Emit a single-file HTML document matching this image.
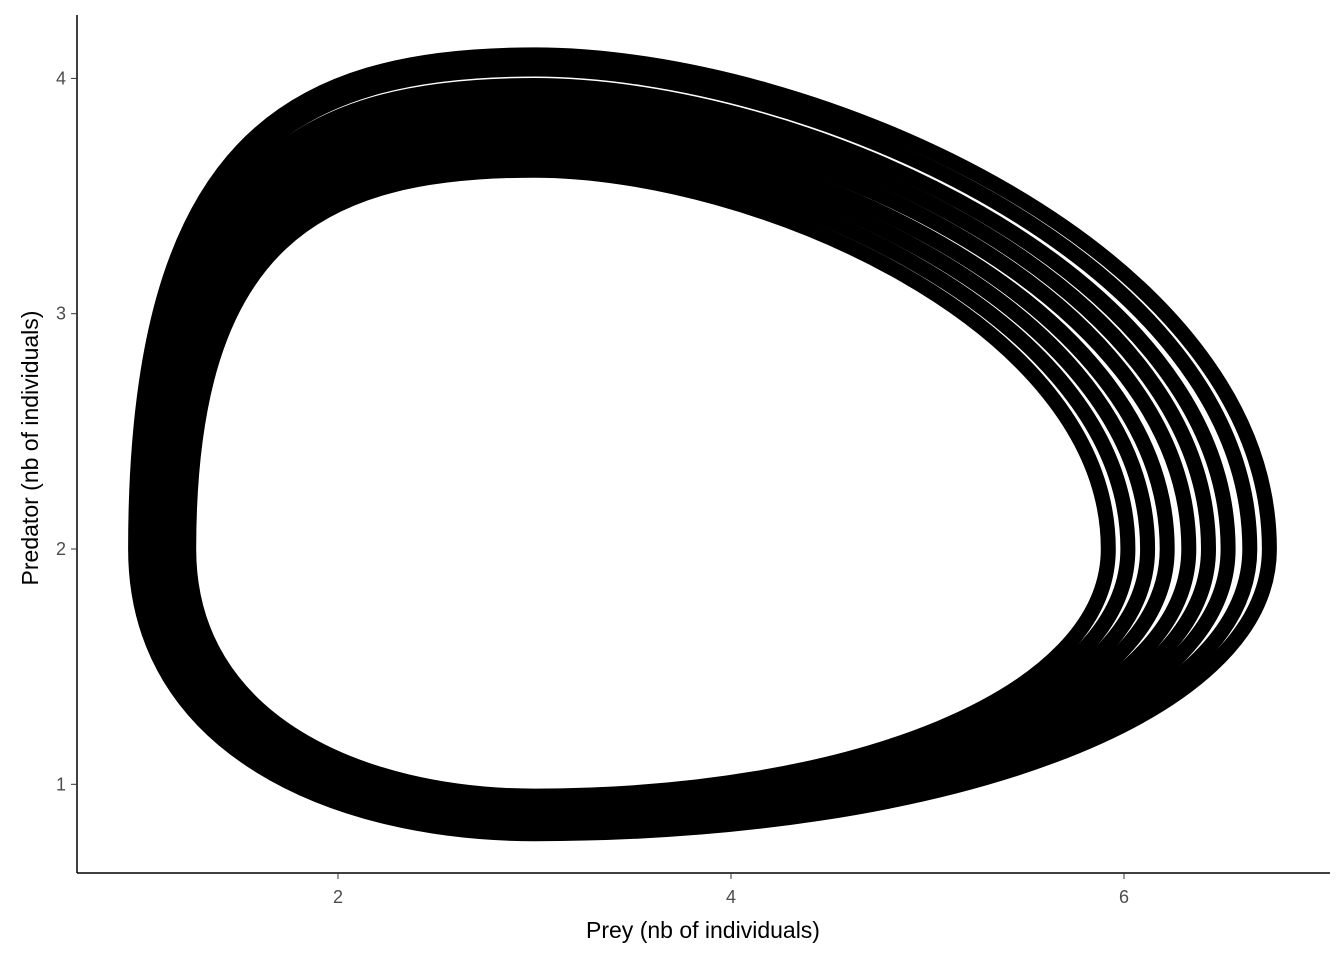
<!DOCTYPE html>
<html><head><meta charset="utf-8"><style>
body{margin:0;background:#fff;font-family:"Liberation Sans",sans-serif}
svg text{font-family:"Liberation Sans",sans-serif}
</style></head><body>
<svg id="c" width="1344" height="960" xmlns="http://www.w3.org/2000/svg">
<rect width="1344" height="960" fill="#fff"/>
<g id="orbits"></g>
<line x1="77" y1="15" x2="77" y2="873" stroke="#000" stroke-width="1.5"/>
<line x1="77" y1="873" x2="1330" y2="873" stroke="#000" stroke-width="1.5"/>
<g id="ticks"></g>
<text x="703" y="938" font-size="23" text-anchor="middle" fill="#000">Prey (nb of individuals)</text>
<text transform="translate(38,448) rotate(-90)" font-size="23" text-anchor="middle" fill="#000">Predator (nb of individuals)</text>
</svg>
<script>
const xTicks=[2,4,6];
const yTicks=[1,2,3,4];
const preyMin=[1.24,1.21,1.17,1.14,1.10,1.07,1.04,1.00,0.97];
const preyMax=[5.92,6.02,6.12,6.22,6.33,6.43,6.53,6.64,6.74];
const predMin=[0.95,0.93,0.91,0.89,0.87,0.85,0.83,0.81,0.79];
const predMax=[3.61,3.67,3.73,3.79,3.85,3.91,3.97,4.04,4.10];
const eqX=3, eqY=2;
const sx=v=>338+(v-2)*196.5;
const sy=v=>549-(v-2)*235.3;
const NS="http://www.w3.org/2000/svg";
const g=document.getElementById('orbits');
const P=(x,y)=>sx(x).toFixed(1)+' '+sy(y).toFixed(1);
for(let i=0;i<preyMin.length;i++){
  const a=preyMin[i],b=preyMax[i],lo=predMin[i],hi=predMax[i];
  const d='M'+P(a,eqY)+
   ' C'+P(a,eqY+0.82*(hi-eqY))+','+P(eqX-0.62*(eqX-a),hi)+','+P(eqX,hi)+
   ' C'+P(eqX+0.38*(b-eqX),hi)+','+P(b,eqY+0.6*(hi-eqY))+','+P(b,eqY)+
   ' C'+P(b,eqY-0.6*(eqY-lo))+','+P(eqX+0.55*(b-eqX),lo)+','+P(eqX,lo)+
   ' C'+P(eqX-0.5*(eqX-a),lo)+','+P(a,eqY-0.7*(eqY-lo))+','+P(a,eqY)+'Z';
  const p=document.createElementNS(NS,'path');
  p.setAttribute('d',d);p.setAttribute('fill','none');p.setAttribute('stroke','#000');
  p.setAttribute('stroke-width','15');
  
  
  g.appendChild(p);
}
const t=document.getElementById('ticks');
xTicks.forEach(v=>{
  const l=document.createElementNS(NS,'line');
  l.setAttribute('x1',sx(v));l.setAttribute('x2',sx(v));l.setAttribute('y1',873);l.setAttribute('y2',879);l.setAttribute('stroke','#333');
  
  
  t.appendChild(l);
  const s=document.createElementNS(NS,'text');
  s.setAttribute('x',sx(v));s.setAttribute('y',903);s.setAttribute('font-size','18');s.setAttribute('text-anchor','middle');s.setAttribute('fill','#4d4d4d');
  s.textContent=v;
  
  
  t.appendChild(s);
});
yTicks.forEach(v=>{
  const l=document.createElementNS(NS,'line');
  l.setAttribute('x1',71);l.setAttribute('x2',77);l.setAttribute('y1',sy(v));l.setAttribute('y2',sy(v));l.setAttribute('stroke','#333');
  
  
  t.appendChild(l);
  const s=document.createElementNS(NS,'text');
  s.setAttribute('x',66);s.setAttribute('y',sy(v)+6);s.setAttribute('font-size','18');s.setAttribute('text-anchor','end');s.setAttribute('fill','#4d4d4d');
  s.textContent=v;
  
  
  t.appendChild(s);
});
</script>
</body></html>
